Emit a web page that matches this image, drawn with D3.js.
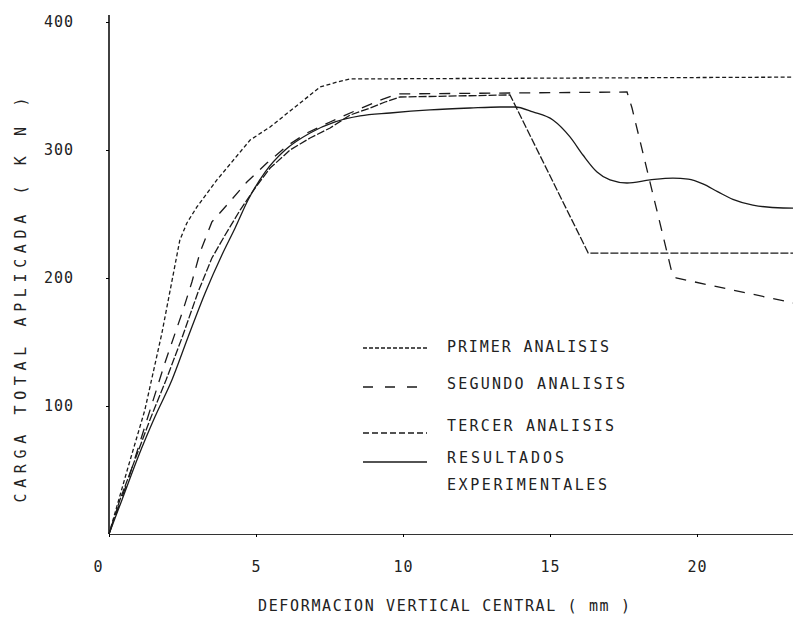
<!DOCTYPE html>
<html>
<head>
<meta charset="utf-8">
<script src="https://cdn.jsdelivr.net/npm/d3@7"></script>
<style>
  body { margin: 0; background: #fff; }
  svg text { font-family: "DejaVu Sans Mono", "Liberation Mono", monospace; fill: #222; }
</style>
</head>
<body>
<svg id="chart" width="793" height="624"></svg>
<script>
// values: deformation (mm) / load (kN)
const primerX = [0, 0.65, 1.22, 1.80, 2.41, 2.65, 2.99, 3.67, 4.80, 5.48, 6.50, 7.18, 7.76, 8.20, 24]
const primerY = [0, 52.3, 96.9, 157.0, 229.7, 243.0, 255.5, 276.6, 307.8, 318.0, 336.7, 349.2, 353.1, 355.5, 357.0]

const segundoX = [0, 0.65, 1.29, 1.90, 2.52, 2.82, 3.10, 3.50, 4.01, 4.69, 5.37, 6.05, 6.73, 7.52, 8.44, 9.32, 9.80, 17.62, 17.79, 19.15, 19.29, 24]
const segundoY = [0, 42.2, 89.1, 133.6, 175.0, 196.9, 220.3, 243.8, 257.0, 275.0, 289.8, 303.1, 313.3, 321.9, 331.3, 339.8, 343.8, 345.3, 332.8, 204.0, 200.0, 177.0]

const tercerX = [0, 0.37, 0.88, 1.39, 1.94, 2.48, 3.03, 3.50, 3.95, 4.46, 4.97, 5.48, 6.16, 6.84, 7.52, 8.20, 8.88, 9.39, 9.90, 13.64, 16.30, 24]
const tercerY = [0, 26.6, 57.8, 89.1, 120.3, 153.1, 189.1, 215.6, 233.6, 253.1, 270.3, 285.9, 300.0, 309.4, 317.2, 327.3, 332.8, 337.5, 341.4, 343.0, 219.5, 219.5]

const expX = [0, 0.44, 0.99, 1.56, 2.14, 2.69, 3.27, 3.84, 4.29, 4.73, 5.31, 5.99, 6.84, 7.69, 8.54, 9.56, 10.92, 12.28, 13.30, 13.81, 14.42, 15.10, 15.68, 16.12, 16.60, 17.04, 17.62, 18.40, 19.18, 19.70, 20.20, 20.70, 21.22, 21.90, 22.93, 24]
const expY = [0, 26.6, 60.2, 91.4, 120.3, 153.9, 188.3, 218.0, 239.1, 260.9, 282.8, 300.0, 313.3, 321.9, 326.6, 328.9, 331.3, 332.8, 333.6, 333.6, 329.7, 323.4, 310.2, 296.1, 282.8, 276.6, 274.2, 276.6, 278.1, 277.2, 273.5, 267.5, 261.5, 257.0, 254.7, 254.5]

const seriesNames = ["PRIMER ANALISIS", "SEGUNDO ANALISIS", "TERCER ANALISIS", "RESULTADOS"]
const xTicks = [0, 5, 10, 15, 20]
const yTicks = [100, 200, 300, 400]

const series = [
  { name: seriesNames[0], xs: primerX, ys: primerY, dash: "4,2.5", curve: d3.curveLinear },
  { name: seriesNames[1], xs: segundoX, ys: segundoY, dash: "11,9", curve: d3.curveLinear },
  { name: seriesNames[2], xs: tercerX, ys: tercerY, dash: "8,2", curve: d3.curveLinear },
  { name: seriesNames[3], xs: expX, ys: expY, dash: null, curve: d3.curveMonotoneX }
]

const svg = d3.select("#chart")

const x = d3.scaleLinear().domain([0, 24]).range([109, 109 + 24 * 29.4])
const y = d3.scaleLinear().domain([0, 400]).range([534, 22])

// axes
const yAxis = d3.axisLeft(y).tickValues(yTicks).tickSize(3).tickSizeOuter(0).tickPadding(32)
const yG = svg.append("g").attr("transform", `translate(${x(0)},0)`).call(yAxis)
yG.select(".domain").attr("stroke", "#111").attr("stroke-width", 1.6)
  .attr("d", `M0,${y(0)}V15`)
yG.selectAll("text").attr("font-size", 15).style("letter-spacing", "1px")

const xAxis = d3.axisBottom(x).tickValues(xTicks).tickSize(3).tickSizeOuter(0).tickPadding(24)
const xG = svg.append("g").attr("transform", `translate(0,${y(0)})`).call(xAxis)
xG.select(".domain").attr("stroke", "#333").attr("stroke-width", 1)
xG.selectAll("text").attr("font-size", 15).style("letter-spacing", "1px")
xG.selectAll(".tick").filter(d => d === 0).select("text").attr("dx", -11)

svg.append("text")
  .attr("x", 444).attr("y", 611)
  .attr("text-anchor", "middle")
  .attr("font-size", 15)
  .attr("textLength", 372).attr("lengthAdjust", "spacing")
  .text("DEFORMACION VERTICAL CENTRAL ( mm )")

svg.append("text")
  .attr("transform", "translate(26,300) rotate(-90)")
  .attr("text-anchor", "middle")
  .attr("font-size", 15)
  .attr("textLength", 405).attr("lengthAdjust", "spacing")
  .text("CARGA TOTAL APLICADA ( K N )")

// curves
svg.append("g").selectAll("path").data(series).join("path")
  .attr("d", s => d3.line().x(d => x(d[0])).y(d => y(d[1])).curve(s.curve)(s.xs.map((v, i) => [v, s.ys[i]])))
  .attr("fill", "none")
  .attr("stroke", "#1a1a1a")
  .attr("stroke-width", 1.3)
  .attr("stroke-dasharray", s => s.dash)

// legend
const legendRows = [
  { lineY: 348, textY: 352, label: "PRIMER ANALISIS", len: 162, dash: "4,2" },
  { lineY: 387, textY: 389, label: "SEGUNDO ANALISIS", len: 178, dash: "10,12" },
  { lineY: 433, textY: 431, label: "TERCER ANALISIS", len: 167, dash: "6,3" },
  { lineY: 462, textY: 463, label: "RESULTADOS", len: 117, dash: null }
]

const legend = svg.append("g")
legendRows.forEach(r => {
  legend.append("line")
    .attr("x1", 363).attr("x2", 427)
    .attr("y1", r.lineY).attr("y2", r.lineY)
    .attr("stroke", "#1a1a1a").attr("stroke-width", 1.3)
    .attr("stroke-dasharray", r.dash)
  legend.append("text")
    .attr("x", 447).attr("y", r.textY)
    .attr("font-size", 15)
    .attr("textLength", r.len).attr("lengthAdjust", "spacing")
    .text(r.label)
})
legend.append("text")
  .attr("x", 447).attr("y", 490)
  .attr("font-size", 15)
  .attr("textLength", 160).attr("lengthAdjust", "spacing")
  .text("EXPERIMENTALES")
</script>
</body>
</html>
